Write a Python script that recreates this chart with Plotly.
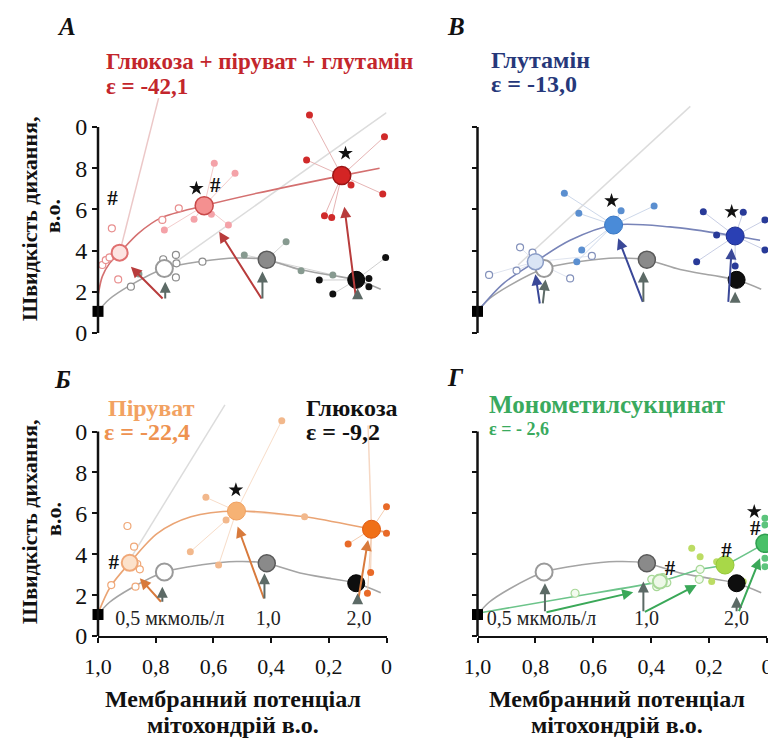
import plotly.graph_objects as go

# ------------------------------------------------------------------ data
x_tick_vals = [1.0, 0.8, 0.6, 0.4, 0.2, 0.0]
x_tick_text = ["1,0", "0,8", "0,6", "0,4", "0,2", "0"]
y_tick_vals = [0, 2, 4, 6, 8, 10]
y_tick_text = ["0", "2", "4", "6", "8", "0"]

basal_x = [1.0]
basal_y = [1.05]

# glucose (grey reference curve, shared by all panels)
glc_curve_x = [1.0, 0.96, 0.89, 0.77, 0.64, 0.52, 0.42, 0.30, 0.19, 0.105, 0.02]
glc_curve_y = [1.05, 1.65, 2.30, 3.13, 3.48, 3.64, 3.57, 3.08, 2.80, 2.58, 2.12]
glc_mean_x = [0.77, 0.415, 0.105]
glc_mean_y = [3.13, 3.56, 2.58]
glc_p05_x = [0.886, 0.774, 0.73, 0.728, 0.73, 0.638]
glc_p05_y = [2.25, 3.58, 3.79, 3.38, 2.70, 3.46]
glc_p10_x = [0.858, 0.493, 0.348, 0.296, 0.186]
glc_p10_y = [2.86, 3.79, 4.43, 3.02, 2.82]
glc_p20_x = [0.233, 0.186, 0.061, 0.061, 0.003]
glc_p20_y = [2.57, 1.89, 2.65, 2.25, 3.66]

# panel А: glucose + pyruvate + glutamine
mix_curve_x = [1.0, 0.985, 0.96, 0.925, 0.86, 0.78, 0.632, 0.45, 0.155, 0.024]
mix_curve_y = [1.8, 2.75, 3.38, 3.9, 4.84, 5.6, 6.18, 6.78, 7.64, 8.0]
mix_mean_x = [0.925, 0.632, 0.155]
mix_mean_y = [3.9, 6.18, 7.64]
mix_p05_x = [0.985, 0.973, 0.96, 0.952, 0.93, 0.777, 0.72]
mix_p05_y = [3.3, 3.54, 3.67, 5.08, 2.6, 5.49, 6.05]
mix_p10_x = [0.77, 0.667, 0.597, 0.525, 0.607, 0.548]
mix_p10_y = [5.0, 5.52, 8.24, 7.75, 5.76, 5.24]
mix_p20_x = [0.267, 0.277, 0.007, 0.013, 0.123, 0.215, 0.19]
mix_p20_y = [10.58, 8.4, 9.53, 6.75, 7.18, 5.69, 5.61]
mix_hash_x = [0.95, 0.594]
mix_hash_y = [6.49, 7.1]
mix_star_x = [0.659, 0.142]
mix_star_y = [7.02, 8.72]

# panel В: glutamine
gln_curve_x = [1.0, 0.91, 0.80, 0.68, 0.53, 0.335, 0.11, 0.024]
gln_curve_y = [1.05, 2.41, 3.46, 4.5, 5.24, 5.15, 4.71, 4.5]
gln_mean_x = [0.80, 0.53, 0.11]
gln_mean_y = [3.46, 5.24, 4.71]
gln_p05_x = [0.96, 0.865, 0.853, 0.81, 0.68, 0.605]
gln_p05_y = [2.82, 3.03, 4.16, 3.9, 2.65, 3.74]
gln_p10_x = [0.70, 0.65, 0.64, 0.657, 0.504, 0.39]
gln_p10_y = [6.78, 5.81, 4.03, 3.46, 5.94, 6.17]
gln_p20_x = [0.22, 0.082, 0.007, 0.007, 0.243, 0.174, 0.11]
gln_p20_y = [5.89, 5.86, 5.49, 4.03, 3.46, 4.76, 3.25]
gln_star_x = [0.537, 0.122]
gln_star_y = [6.42, 5.89]

# panel Б: pyruvate
pyr_curve_x = [1.0, 0.957, 0.89, 0.794, 0.678, 0.52, 0.284, 0.052, 0.006]
pyr_curve_y = [1.1, 2.41, 3.58, 5.02, 5.83, 6.11, 5.83, 5.22, 5.1]
pyr_mean_x = [0.89, 0.52, 0.052]
pyr_mean_y = [3.58, 6.11, 5.22]
pyr_p05_x = [0.954, 0.898, 0.875, 0.864, 0.855, 0.87]
pyr_p05_y = [2.49, 5.38, 4.37, 3.52, 3.26, 2.41]
pyr_p10_x = [0.626, 0.556, 0.68, 0.582, 0.284, 0.363]
pyr_p10_y = [6.78, 5.67, 4.12, 3.47, 5.83, 10.53]
pyr_p20_x = [0.133, 0.0, 0.0, 0.055, 0.066]
pyr_p20_y = [4.5, 6.32, 5.02, 3.1, 2.09]
pyr_hash_x = [0.945]
pyr_hash_y = [3.55]
pyr_star_x = [0.522]
pyr_star_y = [7.14]

# panel Г: monomethyl succinate
mms_curve_x = [1.0, 0.67, 0.37, 0.231, 0.145, 0.007]
mms_curve_y = [1.11, 1.92, 2.66, 3.26, 3.47, 4.53]
mms_mean_x = [0.37, 0.145, 0.007]
mms_mean_y = [2.66, 3.47, 4.53]
mms_p05_x = [0.663, 0.398, 0.346, 0.381, 0.36, 0.231, 0.234]
mms_p05_y = [2.09, 2.77, 2.61, 2.41, 2.85, 3.26, 2.77]
mms_p10_x = [0.26, 0.231, 0.191, 0.174, 0.082]
mms_p10_y = [4.29, 3.88, 2.66, 3.63, 2.66]
mms_p20_x = [0.007, 0.007, 0.007, 0.007]
mms_p20_y = [5.76, 5.43, 3.8, 3.39]
mms_hash_x = [0.335, 0.14, 0.041]
mms_hash_y = [3.23, 4.12, 5.18]
mms_star_x = [0.044]
mms_star_y = [6.08]

# arrows: (tail_x, tail_y, head_x, head_y)
arrows_A = [(0.771, 1.6, 0.886, 3.22), (0.43, 1.6, 0.58, 4.92), (0.105, 1.6, 0.146, 6.13)]
arrows_B = [(0.784, 1.36, 0.80, 2.85), (0.427, 1.44, 0.514, 4.6), (0.134, 1.44, 0.122, 4.11)]
arrows_V = [(0.777, 1.6, 0.855, 2.82), (0.423, 1.76, 0.516, 5.35), (0.098, 1.76, 0.064, 4.7)]
arrows_G = [(0.767, 1.14, 0.462, 2.14), (0.427, 1.14, 0.243, 2.49), (0.099, 1.14, 0.024, 3.8)]
glc_arrows_top = [(0.767, 1.6, 0.767, 2.49), (0.43, 1.6, 0.43, 2.98), (0.1, 1.6, 0.1, 2.17)]
glc_arrows_B = [(0.775, 1.36, 0.765, 2.6), (0.427, 1.44, 0.427, 2.98), (0.11, 1.44, 0.11, 2.0)]
glc_arrows_V = [(0.777, 1.6, 0.777, 2.41), (0.423, 1.76, 0.423, 3.07), (0.1, 1.76, 0.1, 2.09)]
glc_arrows_G = [(0.767, 1.14, 0.767, 2.58), (0.427, 1.14, 0.427, 2.66), (0.105, 1.14, 0.105, 1.92)]

# faint reference lines
faint_A = [((0.925, 3.9), (0.79, 11.4), "#ecc8c8"), ((0.73, 3.45), (0.0, 10.7), "#dcdcdc")]
faint_B = [((0.86, 3.3), (0.265, 11.0), "#dcdcdc")]
faint_V = [((0.9, 3.5), (0.56, 11.3), "#dcdcdc"), ((0.052, 5.22), (0.064, 10.3), "#f6d8c4")]

conc_labels = ["0,5 мкмоль/л", "1,0", "2,0"]
conc_x_V = [0.751, 0.41, 0.095]
conc_x_G = [0.779, 0.416, 0.105]
conc_y = [0.78, 0.78, 0.78]

# ------------------------------------------------------------------ layout
W, H = 776, 738
OFF = 8  # page body margin of the browser
SERIF = "Liberation Serif"
Y_TOP = 11.6

fig = go.Figure()


def ref(panel):
    return {"A": ("x", "y"), "B": ("x2", "y2"), "V": ("x3", "y3"), "G": ("x4", "y4")}[panel]


def add(panel, **kw):
    xa, ya = ref(panel)
    fig.add_trace(go.Scatter(xaxis=xa, yaxis=ya, showlegend=False, hoverinfo="skip",
                             cliponaxis=False, **kw))


def curve(panel, xs, ys, color, width=1.6, smooth=0.9):
    add(panel, x=xs, y=ys, mode="lines",
        line=dict(color=color, width=width, shape="spline", smoothing=smooth))


def spokes(panel, cx, cy, xs, ys, color):
    sx, sy = [], []
    for x, y in zip(xs, ys):
        sx += [cx, x, None]
        sy += [cy, y, None]
    add(panel, x=sx, y=sy, mode="lines", line=dict(color=color, width=1))


def pts(panel, xs, ys, fill, edge=None, size=7, ew=1.2, symbol="circle"):
    add(panel, x=xs, y=ys, mode="markers",
        marker=dict(size=size, color=fill, symbol=symbol,
                    line=dict(color=edge if edge else fill, width=ew if edge else 0)))


def faint(panel, lines):
    for (p0, p1, col) in lines:
        add(panel, x=[p0[0], p1[0]], y=[p0[1], p1[1]], mode="lines",
            line=dict(color=col, width=1.5))


def marks(panel, hx, hy, sx, sy):
    if hx:
        add(panel, x=hx, y=hy, mode="text", text=["<b>#</b>"] * len(hx),
            textfont=dict(family=SERIF, size=21, color="#111"))
    if sx:
        add(panel, x=sx, y=sy, mode="markers",
            marker=dict(symbol="star", size=11, color="#111", line=dict(width=0)))


def arrows(panel, lst, color, width=2):
    xa, ya = ref(panel)
    for (tx, ty, hx, hy) in lst:
        fig.add_annotation(x=hx, y=hy, ax=tx, ay=ty, xref=xa, yref=ya, axref=xa, ayref=ya,
                           text="", showarrow=True, arrowhead=2, arrowsize=1.1,
                           arrowwidth=width, arrowcolor=color, standoff=0, startstandoff=0)


def glucose(panel, with_points=False):
    if with_points:
        spokes(panel, glc_mean_x[1], glc_mean_y[1], glc_p10_x[1:], glc_p10_y[1:], "#d4d4d4")
        spokes(panel, glc_mean_x[2], glc_mean_y[2], glc_p20_x, glc_p20_y, "#cfcfcf")
    curve(panel, glc_curve_x, glc_curve_y, "#a4a4a4")
    if with_points:
        pts(panel, glc_p05_x, glc_p05_y, "white", "#8c8c8c", size=7)
        pts(panel, glc_p10_x, glc_p10_y, "#879a90", size=7)
        pts(panel, glc_p20_x, glc_p20_y, "#111111", size=7)


def glucose_means(panel):
    pts(panel, [glc_mean_x[0]], [glc_mean_y[0]], "white", "#9a9a9a", size=17, ew=2)
    pts(panel, [glc_mean_x[1]], [glc_mean_y[1]], "#8a8a8a", "#5a5a5a", size=17, ew=1.5)
    pts(panel, [glc_mean_x[2]], [glc_mean_y[2]], "#0e0e0e", "#000", size=17, ew=1)


def basal(panel):
    pts(panel, basal_x, basal_y, "#000", size=11, symbol="square")


# ---------------- panel А
faint("A", faint_A)
glucose("A", with_points=True)
spokes("A", mix_mean_x[1], mix_mean_y[1], mix_p10_x, mix_p10_y, "#f3cccc")
spokes("A", mix_mean_x[2], mix_mean_y[2], mix_p20_x, mix_p20_y, "#e6b4b4")
curve("A", mix_curve_x, mix_curve_y, "#d47070")
pts("A", mix_p05_x, mix_p05_y, "white", "#e88f8f", size=7)
pts("A", mix_p10_x, mix_p10_y, "#f4a2a8", size=7)
pts("A", mix_p20_x, mix_p20_y, "#d02a2a", size=7)
glucose_means("A")
pts("A", [mix_mean_x[0]], [mix_mean_y[0]], "#fde4e2", "#e07070", size=16, ew=2)
pts("A", [mix_mean_x[1]], [mix_mean_y[1]], "#f49090", "#c84848", size=18, ew=1.5)
pts("A", [mix_mean_x[2]], [mix_mean_y[2]], "#d42424", "#9a1414", size=18, ew=1.5)
basal("A")
marks("A", mix_hash_x, mix_hash_y, mix_star_x, mix_star_y)

# ---------------- panel В
faint("B", faint_B)
glucose("B")
spokes("B", gln_mean_x[0], gln_mean_y[0], gln_p05_x, gln_p05_y, "#dfe4ef")
spokes("B", gln_mean_x[1], gln_mean_y[1], gln_p10_x, gln_p10_y, "#cdd8ea")
spokes("B", gln_mean_x[2], gln_mean_y[2], gln_p20_x, gln_p20_y, "#c8cee4")
curve("B", gln_curve_x, gln_curve_y, "#7884b8")
pts("B", gln_p05_x, gln_p05_y, "white", "#8391bb", size=7)
pts("B", gln_p10_x, gln_p10_y, "#5b8fd0", size=7)
pts("B", gln_p20_x, gln_p20_y, "#283a98", size=7)
glucose_means("B")
pts("B", [gln_mean_x[0]], [gln_mean_y[0]], "#dae5f5", "#8a9cc6", size=16, ew=1.5)
pts("B", [gln_mean_x[1]], [gln_mean_y[1]], "#4a8bd8", "#3a78c4", size=18, ew=1)
pts("B", [gln_mean_x[2]], [gln_mean_y[2]], "#2a40b4", "#1e2f90", size=18, ew=1)
basal("B")
marks("B", [], [], gln_star_x, gln_star_y)

# ---------------- panel Б
faint("V", faint_V)
glucose("V")
spokes("V", pyr_mean_x[1], pyr_mean_y[1], pyr_p10_x, pyr_p10_y, "#f7dcc8")
spokes("V", pyr_mean_x[2], pyr_mean_y[2], pyr_p20_x, pyr_p20_y, "#f4ccb0")
curve("V", pyr_curve_x, pyr_curve_y, "#eaa474")
pts("V", pyr_p05_x, pyr_p05_y, "white", "#f0a878", size=7)
pts("V", pyr_p10_x, pyr_p10_y, "#f2b88c", size=7)
pts("V", pyr_p20_x, pyr_p20_y, "#e86a28", size=7)
glucose_means("V")
pts("V", [pyr_mean_x[0]], [pyr_mean_y[0]], "#fce2cc", "#f0a878", size=16, ew=2)
pts("V", [pyr_mean_x[1]], [pyr_mean_y[1]], "#f6b274", "#f0a060", size=18, ew=1)
pts("V", [pyr_mean_x[2]], [pyr_mean_y[2]], "#f07018", "#e05a10", size=18, ew=1)
basal("V")
marks("V", pyr_hash_x, pyr_hash_y, pyr_star_x, pyr_star_y)

# ---------------- panel Г
glucose("G")
curve("G", mms_curve_x, mms_curve_y, "#6cc48a", smooth=0.4)
pts("G", mms_p05_x, mms_p05_y, "#f4fbf0", "#a8d898", size=8)
pts("G", mms_p10_x, mms_p10_y, "#bcdc64", size=7)
pts("G", mms_p20_x, mms_p20_y, "#5cc47c", size=7)
glucose_means("G")
pts("G", [mms_mean_x[0]], [mms_mean_y[0]], "#eef8e8", "#a8d898", size=14, ew=2)
pts("G", [mms_mean_x[1]], [mms_mean_y[1]], "#a8d848", "#94c838", size=18, ew=1)
pts("G", [mms_mean_x[2]], [mms_mean_y[2]], "#48c068", "#2f9f50", size=18, ew=1.5)
basal("G")
marks("G", mms_hash_x, mms_hash_y, mms_star_x, mms_star_y)

# concentration labels
for panel, cx in (("V", conc_x_V), ("G", conc_x_G)):
    add(panel, x=cx, y=conc_y, mode="text", text=conc_labels,
        textfont=dict(family=SERIF, size=20, color="#222"))

# arrows
arrows("A", arrows_A, "#b83c3c")
arrows("A", glc_arrows_top, "#5c6a66")
arrows("B", arrows_B, "#3a4898")
arrows("B", glc_arrows_B, "#5c6a66")
arrows("V", arrows_V, "#d87a3c")
arrows("V", glc_arrows_V, "#5c6a66")
arrows("G", arrows_G, "#3aa858")
arrows("G", glc_arrows_G, "#5c6a66")

# ------------------------------------------------------------------ axes
def fx(p):
    return (p - OFF) / W


def fy(p):
    return 1 - (p - OFF) / H


xl = [fx(98), fx(386.5)]
xr = [fx(477.5), fx(767)]
yt = [fy(333), fy(333 - Y_TOP * 20.6)]
yb = [fy(636), fy(636 - Y_TOP * 20.45)]


def xaxis(dom, anchor, visible):
    d = dict(domain=dom, anchor=anchor, range=[1.0, 0.0], showgrid=False, zeroline=False,
             fixedrange=True, automargin=False)
    if visible:
        d.update(showline=True, linecolor="#111", linewidth=2, ticks="outside", ticklen=5,
                 tickwidth=1.5, tickcolor="#111", tickvals=x_tick_vals, ticktext=x_tick_text,
                 tickfont=dict(family=SERIF, size=22, color="#111"), ticklabelstandoff=5)
    else:
        d.update(showline=False, showticklabels=False, ticks="")
    return d


def yaxis(dom, anchor, labels):
    return dict(domain=dom, anchor=anchor, range=[0, Y_TOP], showgrid=False, zeroline=False,
                showline=False, ticks="outside", ticklen=5, tickwidth=1.5, tickcolor="#111",
                tickvals=y_tick_vals, ticktext=y_tick_text, showticklabels=labels,
                tickfont=dict(family=SERIF, size=24, color="#111"), fixedrange=True,
                automargin=False)


fig.update_layout(
    width=W, height=H, margin=dict(l=0, r=0, t=0, b=0, autoexpand=False),
    paper_bgcolor="white", plot_bgcolor="rgba(0,0,0,0)", showlegend=False,
    xaxis=xaxis(xl, "y", False), yaxis=yaxis(yt, "x", True),
    xaxis2=xaxis(xr, "y2", False), yaxis2=yaxis(yt, "x2", False),
    xaxis3=xaxis(xl, "y3", True), yaxis3=yaxis(yb, "x3", True),
    xaxis4=xaxis(xr, "y4", True), yaxis4=yaxis(yb, "x4", False),
)

# y-axis lines stopping at 10
for ya, xa in (("y", "x"), ("y2", "x2"), ("y3", "x3"), ("y4", "x4")):
    fig.add_shape(type="line", xref=xa + " domain", yref=ya + " domain", x0=0, x1=0,
                  y0=0, y1=10 / Y_TOP, line=dict(color="#111", width=2.5), layer="above")


def note(text, px, py, size=24, color="#111", xanchor="left", angle=0):
    fig.add_annotation(text=text, x=fx(px), y=fy(py), xref="paper", yref="paper",
                       xanchor=xanchor, yanchor="middle", showarrow=False, textangle=angle,
                       font=dict(family=SERIF, size=size, color=color), align="center")


# panel letters
note("<b><i>А</i></b>", 55, 27, size=25)
note("<b><i>В</i></b>", 445, 27, size=25)
note("<b><i>Б</i></b>", 52, 379, size=25)
note("<b><i>Г</i></b>", 445, 377, size=25)

# series titles
note("<b>Глюкоза + піруват + глутамін</b>", 104, 61, size=23, color="#c3262c")
note("<b>ε = -42,1</b>", 104, 87, size=23, color="#c3262c")
note("<b>Глутамін</b>", 489, 60, color="#26387a")
note("<b>ε = -13,0</b>", 489, 84, color="#26387a")
note("<b>Піруват</b>", 106, 408, color="#f2a262")
note("<b>ε = -22,4</b>", 102, 432, color="#ee9250")
note("<b>Глюкоза</b>", 304, 408, color="#111")
note("<b>ε = -9,2</b>", 304, 432, color="#111")
note("<b>Монометилсукцинат</b>", 487, 404, size=25, color="#3aaa5e")
note("<b>ε = - 2,6</b>", 487, 429, size=18, color="#3aaa5e")

# axis titles
for cy in (219, 522):
    note("<b>Швидкість дихання,</b>", 29, cy, size=22, xanchor="center", angle=-90)
    note("<b>в.о.</b>", 53, cy - 3, size=22, xanchor="center", angle=-90)
for cx in (233, 617):
    note("<b>Мембранний потенціал</b>", cx, 699, size=24, xanchor="center")
    note("<b>мітохондрій в.о.</b>", cx, 725, size=24, xanchor="center")

fig.write_html("out.html")
